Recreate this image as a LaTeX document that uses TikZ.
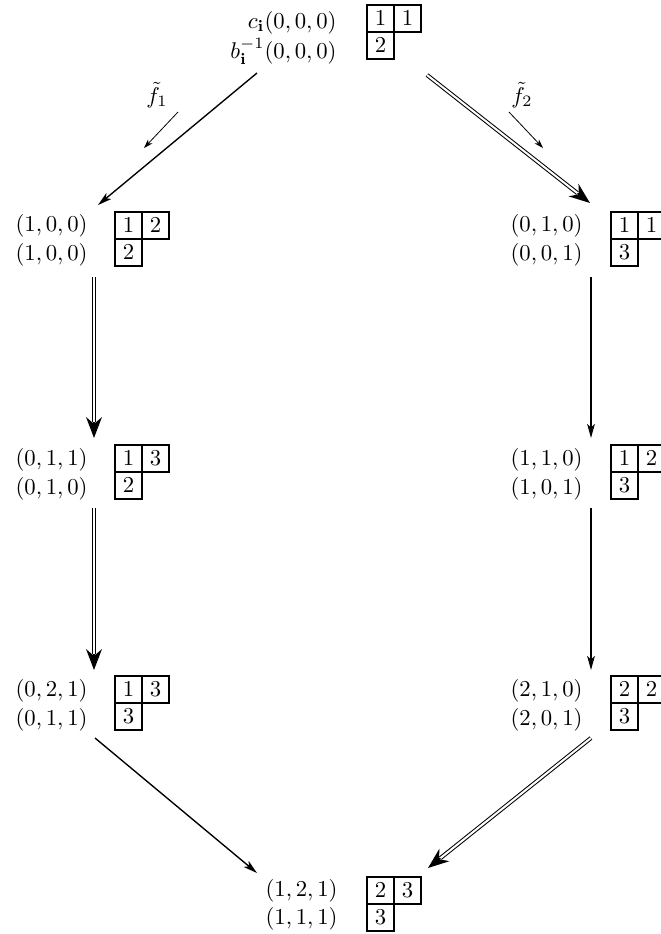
\documentclass[tikz,border=0pt]{standalone}
\usetikzlibrary{arrows.meta}
\tikzset{
  cell/.style={draw,line width=0.8pt,minimum size=11.9pt,inner sep=0pt},
  wt/.style={anchor=base east,inner sep=0pt},
  opname/.style={inner sep=0pt},
  onearrow/.style={line width=0.6pt,-{Stealth[length=6.2pt,width=3.4pt,inset=1.6pt]}},
  smallarrow/.style={line width=0.35pt,-{Stealth[length=4pt,width=2.6pt,inset=1.2pt]}},
  twoarrow/.style={line width=0.7pt,-{Stealth[length=9.2pt,width=7pt,inset=3pt]},
    postaction={draw,-,double,line width=0.45pt,double distance=0.9pt,shorten >=7pt}},
}
% young tableau of shape (2,1): name, top left corner, entries
\newcommand{\ytab}[6]{%
  \node[cell] (#1a) at (#2+13.5,#3+13.5) {$#4$};
  \node[cell] (#1b) at (#2+40.5,#3+13.5) {$#5$};
  \node[cell] (#1c) at (#2+13.5,#3+40.5) {$#6$};
}
\begin{document}
\begin{tikzpicture}[x=0.44pt,y=-0.44pt]
\useasboundingbox (0,0) rectangle (660,934);
% top
\node[wt] (topc) at (337,28) {$c_{\mathbf i}(0,0,0)$};
\node[wt] (topb) at (337,58) {$b_{\mathbf i}^{-1}(0,0,0)$};
\ytab{t}{367}{5}{1}{1}{2}
% left column
\node[wt] (l1c) at (88,231) {$(1,0,0)$};
\node[wt] (l1b) at (88,260) {$(1,0,0)$};
\ytab{la}{115}{212}{1}{2}{2}
\node[wt] (l2c) at (88,465) {$(0,1,1)$};
\node[wt] (l2b) at (88,494) {$(0,1,0)$};
\ytab{lb}{115}{445}{1}{3}{2}
\node[wt] (l3c) at (88,696) {$(0,2,1)$};
\node[wt] (l3b) at (88,725) {$(0,1,1)$};
\ytab{lc}{115}{676}{1}{3}{3}
% right column
\node[wt] (r1c) at (583,231) {$(0,1,0)$};
\node[wt] (r1b) at (583,260) {$(0,0,1)$};
\ytab{ra}{611}{212}{1}{1}{3}
\node[wt] (r2c) at (583,465) {$(1,1,0)$};
\node[wt] (r2b) at (583,494) {$(1,0,1)$};
\ytab{rb}{611}{445}{1}{2}{3}
\node[wt] (r3c) at (583,696) {$(2,1,0)$};
\node[wt] (r3b) at (583,725) {$(2,0,1)$};
\ytab{rc}{611}{676}{2}{2}{3}
% bottom
\node[wt] (btc) at (338,896) {$(1,2,1)$};
\node[wt] (btb) at (338,924) {$(1,1,1)$};
\ytab{bt}{367}{877}{2}{3}{3}
% arrow ends
\coordinate (top-l) at (257,73);
\coordinate (top-r) at (427,75);
\coordinate (l1-in) at (98,205);
\coordinate (l1-out) at (94,277);
\coordinate (r1-in) at (590,203);
\coordinate (r1-out) at (591,277);
\coordinate (l2-in) at (94,438);
\coordinate (l2-out) at (94,508);
\coordinate (r2-in) at (591,438);
\coordinate (r2-out) at (591,508);
\coordinate (l3-in) at (94,670);
\coordinate (l3-out) at (95,738);
\coordinate (r3-in) at (591,670);
\coordinate (r3-out) at (591,738);
\coordinate (bt-l) at (257,873);
\coordinate (bt-r) at (428,868);
% operators
\node[opname] (f1) at (157,95) {$\tilde f_1$};
\node[opname] (f2) at (522,95) {$\tilde f_2$};
\coordinate (f1-s) at (178,112);
\coordinate (f1-e) at (144,148);
\coordinate (f2-s) at (509,112);
\coordinate (f2-e) at (543,148);
\draw[smallarrow] (f1-s) -- (f1-e);
\draw[smallarrow] (f2-s) -- (f2-e);
\foreach \a/\b in {top-l/l1-in,l3-out/bt-l,r1-out/r2-in,r2-out/r3-in}
  \draw[onearrow] (\a) -- (\b);
\foreach \a/\b in {top-r/r1-in,l1-out/l2-in,l2-out/l3-in,r3-out/bt-r}
  \draw[twoarrow] (\a) -- (\b);
\end{tikzpicture}
\end{document}
